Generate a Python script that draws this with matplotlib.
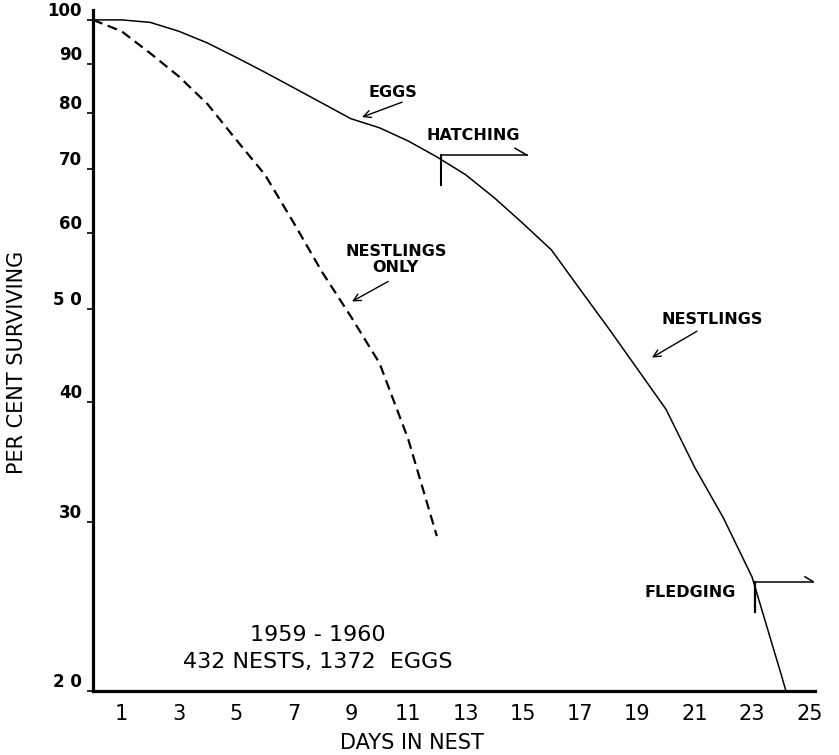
import matplotlib
matplotlib.use("Agg")
import matplotlib.pyplot as plt
from matplotlib.ticker import NullLocator

# survival (percent surviving per day in nest)
days = list(range(0, 26))
eggs_nestlings = [100, 100, 99.4, 97.3, 94.6, 91.4, 88.2, 85.0, 81.9, 78.9,
                  77.2, 74.8, 72.0, 69.0, 65.3, 61.4, 57.6, 52.4, 47.7, 43.3,
                  39.3, 34.2, 30.3, 26.3, 20.9, 16.5]
nestling_days = list(range(0, 13))
nestlings_only = [100, 97.3, 92.3, 87.3, 81.7, 75.0, 69.0, 61.5, 54.6, 49.1,
                  43.9, 36.6, 29.0]

x_ticks = [1, 3, 5, 7, 9, 11, 13, 15, 17, 19, 21, 23, 25]
y_ticks = [20, 30, 40, 50, 60, 70, 80, 90, 100]
y_labels = ["2 0", "30", "40", "5 0", "60", "70", "80", "90", "100"]

hatch_day = 12.15
fledge_day = 23.1

fig = plt.figure(figsize=(8.39, 7.55), dpi=100)
ax = fig.add_axes([93/839, 64/755, (815-93)/839, (745-64)/755])

ax.plot(days, eggs_nestlings, color="black", lw=1.1)
ax.plot(nestling_days, nestlings_only, color="black", lw=1.6, linestyle=(0, (4.5, 2.6)))

ax.set_yscale("log")
ax.set_ylim(20, 102.4)
ax.set_xlim(0, 25.2)

for s in ["top", "right"]:
    ax.spines[s].set_visible(False)
for s in ["left", "bottom"]:
    ax.spines[s].set_linewidth(2.3)

ax.set_yticks(y_ticks)
ax.yaxis.set_minor_locator(NullLocator())
ax.set_yticklabels(y_labels, fontsize=12, fontweight="bold")
for lab in ax.get_yticklabels():
    lab.set_va("bottom")
ax.tick_params(axis="y", length=4, width=1.2, pad=4)

ax.set_xticks(x_ticks)
ax.set_xticklabels([str(t) for t in x_ticks], fontsize=15)
ax.tick_params(axis="x", length=0, pad=9)

fig.text(412/839, 1 - 743/755, "DAYS IN NEST", fontsize=15, ha="center", va="center")
fig.text(17.5/839, 1 - 362/755, "PER CENT SURVIVING", fontsize=15, rotation=90,
         ha="center", va="center")

# labels and arrows
lab_kw = dict(fontsize=11.5, fontweight="bold", ha="center", va="center")
arr = dict(arrowstyle="->", lw=1.0, color="black", shrinkA=0, shrinkB=0,
           mutation_scale=13)
ax.text(10.47, 84.1, "EGGS", **lab_kw)
ax.annotate("", xy=(9.39, 79.2), xytext=(10.79, 82.1), arrowprops=arr)
ax.text(13.26, 75.7, "HATCHING", **lab_kw)
ax.text(10.57, 56.3, "NESTLINGS\nONLY", linespacing=1.1, **lab_kw)
ax.annotate("", xy=(9.04, 50.9), xytext=(10.30, 53.4), arrowprops=arr)
ax.text(21.6, 48.7, "NESTLINGS", **lab_kw)
ax.annotate("", xy=(19.51, 44.5), xytext=(21.08, 47.4), arrowprops=arr)
ax.text(20.84, 25.35, "FLEDGING", **lab_kw)

# hatching bracket
ax.plot([hatch_day, hatch_day], [67.3, 72.3], color="black", lw=1.5)
ax.plot([hatch_day, 15.15], [72.3, 72.3], color="black", lw=1.1)
ax.plot([14.73, 15.15], [73.5, 72.3], color="black", lw=1.1)

# fledging bracket
ax.plot([fledge_day, fledge_day], [24.2, 26.0], color="black", lw=1.6)
ax.plot([fledge_day, 25.13], [26.0, 26.0], color="black", lw=1.1, clip_on=False)
ax.plot([24.85, 25.13], [26.3, 26.0], color="black", lw=1.1, clip_on=False)

ax.text(7.85, 22.9, "1959 - 1960", fontsize=16, ha="center", va="center")
ax.text(7.85, 21.45, "432 NESTS, 1372  EGGS", fontsize=16, ha="center", va="center")

fig.savefig("out.png", dpi=100)
